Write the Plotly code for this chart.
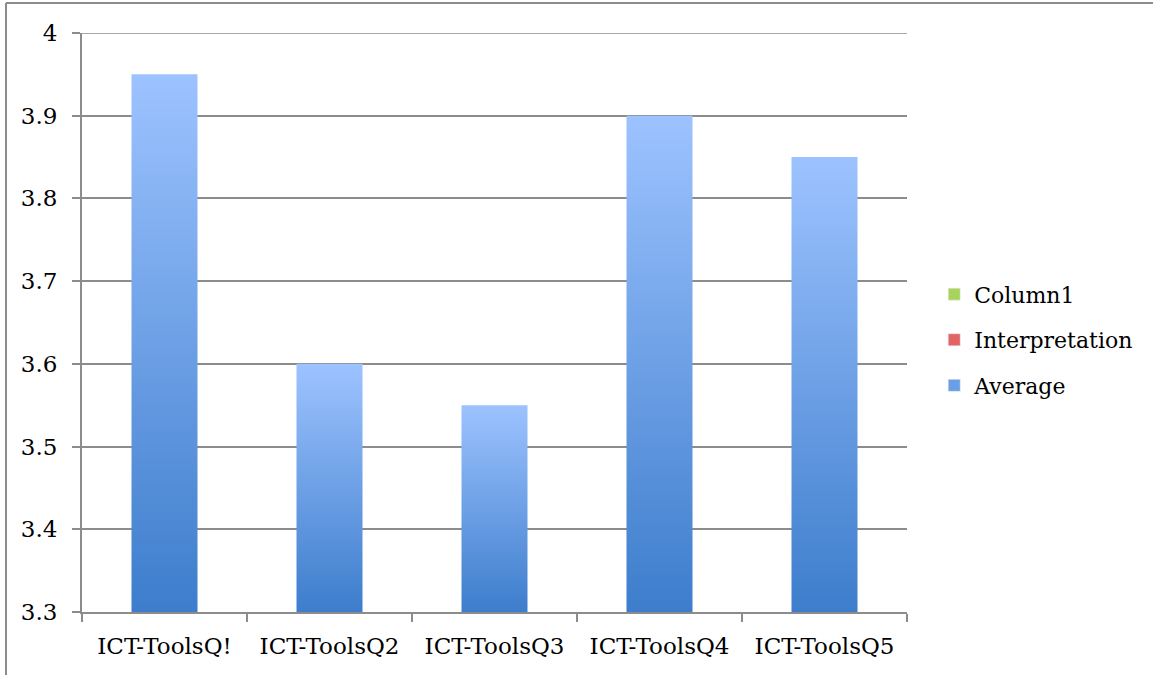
import plotly.graph_objects as go

categories = ["ICT-ToolsQ!", "ICT-ToolsQ2", "ICT-ToolsQ3", "ICT-ToolsQ4", "ICT-ToolsQ5"]
average = [3.95, 3.60, 3.55, 3.90, 3.85]
y_base = 3.3
y_top = 4.0
bar_half = 0.2

FONT = "DejaVu Serif"
GRID = "#8c8c8c"

fig = go.Figure()

# each bar is a filled polygon so it can carry a vertical gradient
for i, v in enumerate(average):
    fig.add_trace(go.Scatter(
        x=[i - bar_half, i + bar_half, i + bar_half, i - bar_half, i - bar_half],
        y=[y_base, y_base, v, v, y_base],
        mode="lines", line=dict(width=0),
        fill="toself",
        fillgradient=dict(type="vertical",
                          colorscale=[[0, "#3d7dcc"], [1, "#9dc3ff"]]),
        showlegend=False, hoverinfo="skip",
    ))

# legend entries
legend_items = [("Column1", "#a8d45c"), ("Interpretation", "#e26464"), ("Average", "#6b9fe4")]
for name, col in legend_items:
    fig.add_trace(go.Bar(x=[None], y=[None], name=name, marker_color=col,
                         legendgroup=name))

fig.update_layout(
    width=1153, height=675,
    margin=dict(l=82, r=246, t=33, b=63, autoexpand=False),
    paper_bgcolor="white", plot_bgcolor="white",
    font=dict(family=FONT, size=23, color="black"),
    showlegend=True,
    legend=dict(x=1.033, y=0.47, xanchor="left", yanchor="middle",
                traceorder="grouped", tracegroupgap=14,
                font=dict(family=FONT, size=22), itemwidth=30),
    xaxis=dict(range=[-0.5, 4.5], tickvals=list(range(len(categories))),
               ticktext=categories, ticks="", showgrid=False, zeroline=False,
               showline=True, linecolor=GRID, linewidth=2,
               ticklabelstandoff=12,
               minor=dict(tick0=-0.5, dtick=1, ticks="outside", ticklen=8,
                          tickcolor=GRID, tickwidth=2, showgrid=False),
               fixedrange=True),
    yaxis=dict(range=[y_base, y_top], dtick=0.1, tick0=y_base,
               ticks="outside", ticklen=8, tickcolor=GRID, tickwidth=2,
               showgrid=True, gridcolor=GRID, gridwidth=1.5, zeroline=False,
               showline=True, linecolor=GRID, linewidth=2,
               ticklabelstandoff=10, fixedrange=True),
)

# gridline at the top of the value range
fig.add_shape(type="line", xref="paper", yref="y", x0=0, x1=1,
              y0=y_top, y1=y_top, line=dict(color=GRID, width=1.5), layer="below")

# outer frame of the chart area
fig.add_shape(type="line", xref="paper", yref="paper",
              x0=(6 - 82) / 825, x1=(1153 - 82) / 825,
              y0=1 + 30 / 579, y1=1 + 30 / 579,
              line=dict(color=GRID, width=2))
fig.add_shape(type="line", xref="paper", yref="paper",
              x0=(6 - 82) / 825, x1=(6 - 82) / 825,
              y0=1 + 30 / 579, y1=-63 / 579,
              line=dict(color=GRID, width=2))

fig.write_html("out.html")
